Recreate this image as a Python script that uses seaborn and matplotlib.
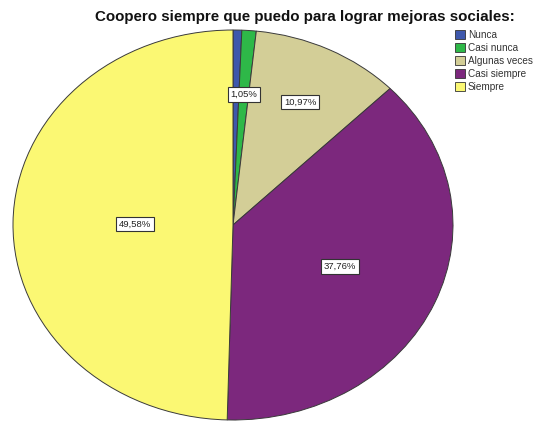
import matplotlib
matplotlib.use("Agg")
import matplotlib.pyplot as plt
import matplotlib.patches as mpatches
import numpy as np
import seaborn as sns

# data
categories = ["Nunca", "Casi nunca", "Algunas veces", "Casi siempre", "Siempre"]
percentages = [0.64, 1.05, 10.97, 37.76, 49.58]
shown_labels = ["", "1,05%", "10,97%", "37,76%", "49,58%"]

# SPSS-like palette
colors = ["#3E58AC", "#2EB848", "#D3CE97", "#7C287D", "#FBF873"]
# radial distance of each percentage box (style only)
label_dist = [0.0, 0.67, 0.70, 0.53, 0.445]

sns.set_theme(style="white")
plt.rcParams["font.family"] = ["Liberation Sans", "DejaVu Sans"]

fig = plt.figure(figsize=(5.41, 4.22), dpi=100)
ax = fig.add_axes([13 / 541, 2 / 422, 440 / 541, 390 / 422])

wedges, _ = ax.pie(percentages, colors=colors, startangle=90, counterclock=False,
                   wedgeprops=dict(edgecolor="#3a3a3a", linewidth=0.7))
ax.set_aspect("auto")
ax.set_xlim(-1, 1)
ax.set_ylim(-1, 1)

for w, txt, d in zip(wedges, shown_labels, label_dist):
    if not txt:
        continue
    mid = np.deg2rad((w.theta1 + w.theta2) / 2)
    ax.text(d * np.cos(mid), d * np.sin(mid), txt, ha="center", va="center",
            fontsize=6.8, color="#222222",
            bbox=dict(boxstyle="square,pad=0.3", fc="white", ec="#333333", lw=0.8))

fig.text(305 / 541, 1 - 17 / 422, "Coopero siempre que puedo para lograr mejoras sociales:",
         ha="center", va="center", fontsize=10.9, fontweight="bold", color="#111111")

handles = [mpatches.Patch(facecolor=c, edgecolor="#333333", linewidth=0.6, label=l)
           for c, l in zip(colors, categories)]
fig.legend(handles=handles, loc="upper left", bbox_to_anchor=(454 / 541, 1 - 29 / 422),
           frameon=False, fontsize=7.2, handlelength=1.0, handleheight=1.0,
           handletextpad=0.3, labelspacing=0.3, borderaxespad=0, borderpad=0.1,
           labelcolor="#333333")

fig.savefig("out.png", dpi=100)
